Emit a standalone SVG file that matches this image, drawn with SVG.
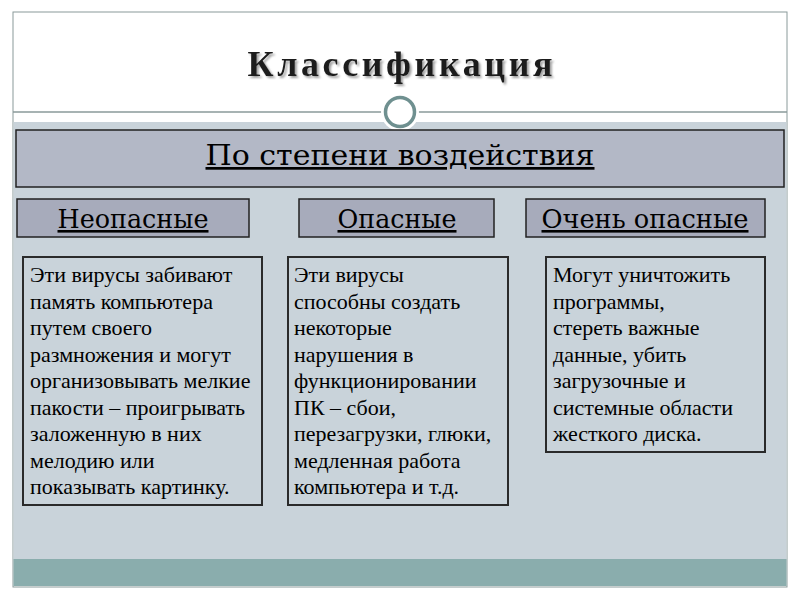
<svg xmlns="http://www.w3.org/2000/svg" width="800" height="600" viewBox="0 0 800 600">
<defs><filter id="sh" x="-10%" y="-30%" width="120%" height="160%"><feDropShadow dx="2" dy="2" stdDeviation="0.8" flood-color="#888" flood-opacity="0.8"/></filter></defs>
<style>
.h{font-family:"DejaVu Serif Condensed","DejaVu Serif",serif;font-stretch:condensed;text-decoration:underline;fill:#000;text-anchor:middle}
.b{font-family:"Liberation Serif",serif;font-size:22px;fill:#000}
.hb{stroke:#222;stroke-width:1.5}
.tb{fill:#c9d3da;stroke:#2a2a2a;stroke-width:2}
</style>
<rect width="800" height="600" fill="#fff"/>
<rect x="13" y="12" width="774" height="575" fill="#fff" stroke="#8a9a9a" stroke-width="1"/>
<rect x="13.5" y="122" width="773" height="437" fill="#c9d3da"/>
<rect x="13.5" y="559" width="773" height="27" fill="#8aadad"/>
<line x1="13" y1="112" x2="787" y2="112" stroke="#8a9a9a" stroke-width="1.5"/>
<text x="400" y="76" font-family="Liberation Serif,serif" font-size="36" font-weight="bold" text-anchor="middle" fill="#1a1a1a" textLength="305" filter="url(#sh)">Классификация</text>
<g id="circle"><circle cx="400" cy="112" r="19" fill="#fff"/><circle cx="400" cy="112" r="14.5" fill="#fff" stroke="#6f9090" stroke-width="3.5"/></g>
<g id="main"><rect x="16" y="130" width="768" height="57" fill="#b3b8c6" class="hb"/><text class="h" x="400" y="165" font-size="27" textLength="389" lengthAdjust="spacingAndGlyphs">По степени воздействия</text></g>
<g id="n1"><rect x="17" y="199" width="232" height="38" fill="#a7abbb" class="hb"/><text class="h" x="133" y="228" font-size="26" textLength="151" lengthAdjust="spacingAndGlyphs">Неопасные</text></g>
<g id="n2"><rect x="299" y="199" width="195" height="38" fill="#a7abbb" class="hb"/><text class="h" x="397" y="228" font-size="26" textLength="119" lengthAdjust="spacingAndGlyphs">Опасные</text></g>
<g id="n3"><rect x="526" y="199" width="239" height="38" fill="#a7abbb" class="hb"/><text class="h" x="645" y="228" font-size="26" textLength="207" lengthAdjust="spacingAndGlyphs">Очень опасные</text></g>
<g id="t1"><rect x="23" y="257" width="239" height="248" class="tb"/>
<text class="b" x="30" y="282"><tspan x="30">Эти вирусы забивают</tspan><tspan x="30" dy="26.5">память компьютера</tspan><tspan x="30" dy="26.5">путем своего</tspan><tspan x="30" dy="26.5">размножения и могут</tspan><tspan x="30" dy="26.5">организовывать мелкие</tspan><tspan x="30" dy="26.5">пакости – проигрывать</tspan><tspan x="30" dy="26.5">заложенную в них</tspan><tspan x="30" dy="26.5">мелодию или</tspan><tspan x="30" dy="26.5">показывать картинку.</tspan></text></g>
<g id="t2"><rect x="288" y="257" width="220" height="248" class="tb"/>
<text class="b" x="294" y="282"><tspan x="294">Эти вирусы</tspan><tspan x="294" dy="26.5">способны создать</tspan><tspan x="294" dy="26.5">некоторые</tspan><tspan x="294" dy="26.5">нарушения в</tspan><tspan x="294" dy="26.5">функционировании</tspan><tspan x="294" dy="26.5">ПК – сбои,</tspan><tspan x="294" dy="26.5">перезагрузки, глюки,</tspan><tspan x="294" dy="26.5">медленная работа</tspan><tspan x="294" dy="26.5">компьютера и т.д.</tspan></text></g>
<g id="t3"><rect x="546" y="257" width="219" height="195" class="tb"/>
<text class="b" x="553" y="282"><tspan x="553">Могут уничтожить</tspan><tspan x="553" dy="26.5">программы,</tspan><tspan x="553" dy="26.5">стереть важные</tspan><tspan x="553" dy="26.5">данные, убить</tspan><tspan x="553" dy="26.5">загрузочные и</tspan><tspan x="553" dy="26.5">системные области</tspan><tspan x="553" dy="26.5">жесткого диска.</tspan></text></g>
<g id="connectors"/>
</svg>
